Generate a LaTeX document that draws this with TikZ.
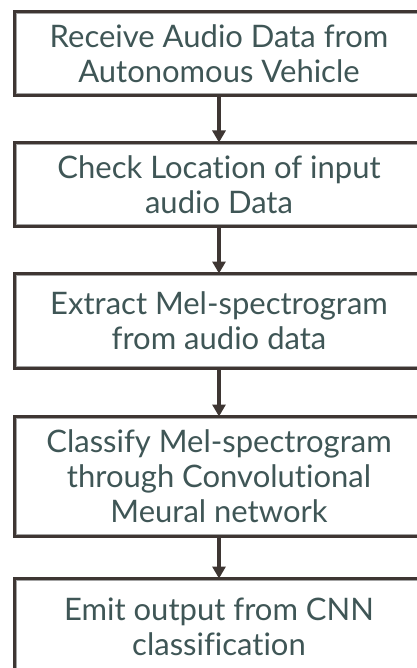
\documentclass[tikz,border=0pt]{standalone}
\usepackage{fontspec}
\setmainfont{Lato}[Ligatures=NoCommon]
\usetikzlibrary{positioning, calc, arrows.meta}
\definecolor{edgebrown}{HTML}{3E3633}
\definecolor{textslate}{HTML}{3F5656}
\definecolor{innergray}{HTML}{A3A3A3}
\newcommand{\flowArrow}{{Triangle[length=12pt, width=13pt]}}

\begin{document}
\begin{tikzpicture}[x=1pt, y=1pt, font=\fontsize{31}{35}\selectfont]
	\tikzset{stepbox/.style={draw=edgebrown, line width=3pt, text=textslate, align=center,
		minimum width=409pt, inner sep=0pt, outer sep=0pt}}
	\useasboundingbox (0,0) rectangle (416,-668);

	\node[stepbox, minimum height=84pt] (receive) at (219,-53.5) {Receive Audio Data from\\Autonomous Vehicle};
	\node[stepbox, minimum height=84pt, below=47pt of receive] (locate) {Check Location of input\\audio Data};
	\node[stepbox, minimum height=95pt, below=47pt of locate] (extract) {Extract Mel-spectrogram\\from audio data};
	\node[stepbox, minimum height=120pt, below=48pt of extract] (classify) {Classify Mel-spectrogram\\through Convolutional\\Meural network};
	\node[stepbox, minimum height=96pt, below=42pt of classify] (emit) {Emit output from CNN\\classification};

	% thin inner frame of each box
	\foreach \n in {receive, locate, extract, classify, emit}
		\draw[innergray, line width=1pt] ($(\n.south west)+(2,2)$) rectangle ($(\n.north east)-(2,2)$);

	\draw[edgebrown, line width=3.5pt, -\flowArrow] (receive) -- (locate);
	\draw[edgebrown, line width=3.5pt, -\flowArrow] (locate) -- (extract);
	\draw[edgebrown, line width=3.5pt, -\flowArrow] (extract) -- (classify);
	\draw[edgebrown, line width=3.5pt, -\flowArrow] (classify) -- (emit);
\end{tikzpicture}
\end{document}
